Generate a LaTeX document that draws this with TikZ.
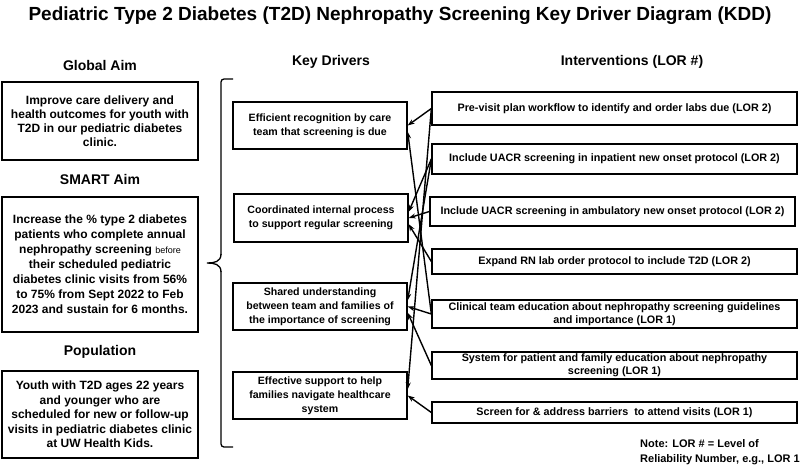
\documentclass[tikz,border=0pt]{standalone}
\usepackage{fontspec}
\setmainfont{Liberation Sans}
\usepackage{tikz}
\usetikzlibrary{arrows.meta, positioning}
\tikzstyle{header} = [
    font=\fontsize{14}{16}\selectfont\bfseries]
\tikzstyle{aim} = [
    rectangle, draw=black, line width=1.4pt,
    minimum width=196pt, inner sep=2pt,
    text centered, align=center,
    font=\fontsize{12}{14}\selectfont\bfseries]
\tikzstyle{driver} = [
    rectangle, draw=black, line width=1.3pt,
    minimum width=174pt, minimum height=47pt, inner sep=2pt,
    text centered, align=center,
    font=\fontsize{10.6}{14}\selectfont\bfseries]
\tikzstyle{intervention} = [
    rectangle, draw=black, line width=1.3pt,
    minimum width=365pt, inner sep=1pt,
    text centered, align=center,
    font=\fontsize{10.8}{13}\selectfont\bfseries]
\tikzstyle{arrow} = [line width=1.4pt, -{Stealth[length=7pt, width=5pt]}]

\begin{document}
\begin{tikzpicture}[x=1pt, y=-1pt]
  \useasboundingbox (0,0) rectangle (800,467);

  \node (title) [font=\fontsize{19}{21}\selectfont\bfseries] at (400,16)
      {Pediatric Type 2 Diabetes (T2D) Nephropathy Screening Key Driver Diagram (KDD)};

  % left column
  \node (gaim) [aim, minimum height=78pt] at (100,121)
      {Improve care delivery and\\health outcomes for youth with\\T2D in our pediatric diabetes\\clinic.};
  \node (gaimhead) [header, above=7pt of gaim] {Global Aim};
  \node (smart) [aim, minimum height=135pt, font=\fontsize{12}{15}\selectfont\bfseries] at (100,264.5)
      {Increase the \% type 2 diabetes\\patients who complete annual\\nephropathy screening {\fontsize{9}{15}\selectfont\mdseries before}\\their scheduled pediatric\\diabetes clinic visits from 56\%\\to 75\% from Sept 2022 to Feb\\2023 and sustain for 6 months.};
  \node (smarthead) [header, above=8pt of smart] {SMART Aim};
  \node (pop) [aim, minimum height=87pt, font=\fontsize{12}{14.5}\selectfont\bfseries] at (100,414.5)
      {Youth with T2D ages 22 years\\and younger who are\\scheduled for new or follow-up\\visits in pediatric diabetes clinic\\at UW Health Kids.};
  \node (pophead) [header, above=8pt of pop] {Population};

  % brace
  \draw [line width=1.3pt, rounded corners=3pt] (233,79) -- (221,79) -- (221,255);
  \draw [line width=1.3pt] (221,254) .. controls (221,262) and (214,263) .. (207,263)
      .. controls (214,263) and (221,264) .. (221,272);
  \draw [line width=1.3pt, rounded corners=3pt] (221,271) -- (221,447) -- (233,447);

  % key drivers
  \node (drvhead) [header] at (331,62) {Key Drivers};
  \node (d1) [driver] at (320,125.5)
      {Efficient recognition by care\\team that screening is due};
  \node (d2) [driver, minimum height=48pt] at (321,218)
      {Coordinated internal process\\to support regular screening};
  \node (d3) [driver] at (320,306.5)
      {Shared understanding\\between team and families of\\the importance of screening};
  \node (d4) [driver] at (320,395.5)
      {Effective support to help\\families navigate healthcare\\system};

  % interventions
  \node (ivhead) [header] at (632,62) {Interventions (LOR \#)};
  \node (i1) [intervention, minimum height=33pt] at (614.5,108.5)
      {Pre-visit plan workflow to identify and order labs due (LOR 2)};
  \node (i2) [intervention, minimum height=30pt] at (614.5,159)
      {Include UACR screening in inpatient new onset protocol (LOR 2)};
  \node (i3) [intervention, minimum height=29pt] at (612.5,211.5)
      {Include UACR screening in ambulatory new onset protocol (LOR 2)};
  \node (i4) [intervention, minimum height=25pt] at (614.5,261.5)
      {Expand RN lab order protocol to include T2D (LOR 2)};
  \node (i5) [intervention, minimum height=28pt] at (614.5,314)
      {Clinical team education about nephropathy screening guidelines\\and importance (LOR 1)};
  \node (i6) [intervention, minimum height=27pt] at (614.5,365.5)
      {System for patient and family education about nephropathy\\screening (LOR 1)};
  \node (i7) [intervention, minimum height=21pt] at (614.5,412.5)
      {Screen for \& address barriers~ to attend visits (LOR 1)};

  \node (note) [anchor=north west, align=left, inner sep=0pt,
      font=\fontsize{11}{15}\selectfont\bfseries] at (640,439)
      {Note: LOR \# = Level of\\Reliability Number, e.g., LOR 1};

  \draw [arrow] (i1.west) -- (d1.east);
  \draw [arrow] (i5.west) -- (d1.-4);
  \draw [arrow] (i2.west) -- (d2.4);
  \draw [arrow] (i3.west) -- (d2.east);
  \draw [arrow] (i4.west) -- (d2.-4);
  \draw [arrow] (i2.west) -- (d3.4);
  \draw [arrow] (i5.west) -- (d3.east);
  \draw [arrow] (i6.west) -- (d3.-4);
  \draw [arrow] (i1.west) -- (d4.4);
  \draw [arrow] (i7.west) -- (d4.east);

\end{tikzpicture}
\end{document}
